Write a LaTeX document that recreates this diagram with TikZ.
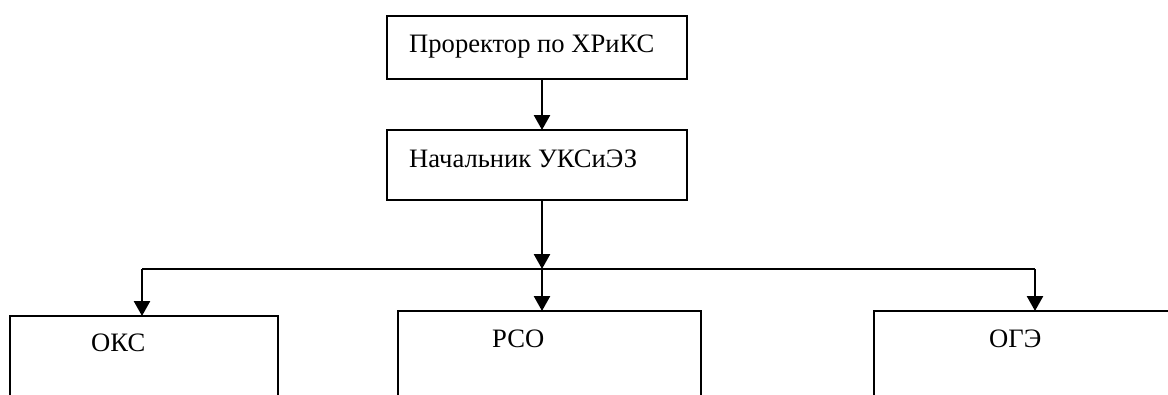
\documentclass[tikz,border=0pt]{standalone}
\usepackage{fontspec}
\setmainfont{Liberation Serif}
\usetikzlibrary{arrows.meta}
\begin{document}
\begin{tikzpicture}[x=1pt,y=1pt,
  box/.style={draw=black,line width=1.6pt,fill=none},
  lbl/.style={inner sep=0pt,anchor=base west,font=\fontsize{26.6}{30}\selectfont},
  conn/.style={line width=2.6pt,-{Triangle[length=15pt,width=16pt]}},
  plain/.style={line width=2.4pt}]
\useasboundingbox (0,0) rectangle (1168,-394);
\clip (0,0) rectangle (1168,-394);
% boxes
\draw[box] (387,-16) rectangle (687,-79);
\draw[box] (387,-130) rectangle (687,-200);
\draw[box] (10,-316) rectangle (278,-420);
\draw[box] (398,-311) rectangle (701,-420);
\draw[box] (874,-311) rectangle (1190,-420);
% anchors
\coordinate (pTop) at (542,-79);
\coordinate (nTop) at (542,-130);
\coordinate (nBot) at (542,-200);
\coordinate (j) at (542,-269);
\coordinate (jl) at (142,-269);
\coordinate (jr) at (1035,-269);
\coordinate (okc) at (142,-316);
\coordinate (rso) at (542,-311);
\coordinate (oge) at (1035,-311);
% labels
\node[lbl] (t1) at (409,-52) {Проректор по ХРиКС};
\node[lbl] (t2) at (409,-167) {Начальник УКСиЭЗ};
\node[lbl] (t3) at (91,-351) {ОКС};
\node[lbl] (t4) at (492,-347) {РСО};
\node[lbl] (t5) at (989,-347) {ОГЭ};
% connectors
\draw[conn] (pTop) -- (nTop);
\draw[conn] (nBot) -- (j);
\draw[plain] (jl) -- (jr);
\draw[conn] (jl) -- (okc);
\draw[conn] (j) -- (rso);
\draw[conn] (jr) -- (oge);
\end{tikzpicture}
\end{document}
